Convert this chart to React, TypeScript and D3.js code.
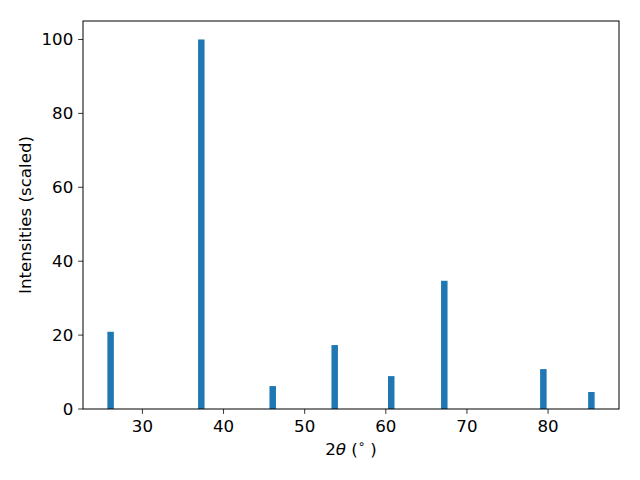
import React from "react";
import * as d3 from "d3";

const angles = [26.08, 37.26, 46.06, 53.7, 60.67, 67.21, 79.42, 85.34];
const intensities = [20.9, 100, 6.2, 17.3, 8.9, 34.7, 10.8, 4.6];
const xTicks = [30, 40, 50, 60, 70, 80];
const yTicks = [0, 20, 40, 60, 80, 100];
const barWidth = 0.8;

export default function App() {
  const W = 640, H = 480;
  const left = 83, right = 619, top = 21, bottom = 409;
  const lo = d3.min(angles)! - barWidth / 2;
  const hi = d3.max(angles)! + barWidth / 2;
  const pad = (hi - lo) * 0.05;
  const x = d3.scaleLinear().domain([lo - pad, hi + pad]).range([left, right]);
  const y = d3.scaleLinear().domain([0, 105]).range([bottom, top]);
  const fs = 16.67;
  const font = "DejaVu Sans, sans-serif";
  return (
    <svg width={W} height={H} style={{ position: "absolute", left: 0, top: 0 }} fontFamily={font}>
      <rect width={W} height={H} fill="white" />
      {angles.map((a, i) => (
        <rect key={i} x={x(a - barWidth / 2)} y={y(intensities[i])}
          width={x(a + barWidth / 2) - x(a - barWidth / 2)}
          height={y(0) - y(intensities[i])} fill="#1f77b4" />
      ))}
      <rect x={left} y={top} width={right - left} height={bottom - top} fill="none" stroke="black" strokeWidth={1} />
      {xTicks.map(t => (
        <g key={t} transform={`translate(${x(t)},${bottom})`}>
          <line y1={0} y2={4.86} stroke="black" strokeWidth={0.8} />
          <text y={432} transform={`translate(0,${-bottom})`} textAnchor="middle" fontSize={fs}>{t}</text>
        </g>
      ))}
      {yTicks.map(t => (
        <g key={t} transform={`translate(${left},${y(t)})`}>
          <line x1={0} x2={-4.86} stroke="black" strokeWidth={0.8} />
          <text x={-4.86 - 4.86} dy="0.36em" textAnchor="end" fontSize={fs}>{t}</text>
        </g>
      ))}
      <text x={(left + right) / 2} y={455} textAnchor="middle" fontSize={fs}>
        <tspan>2</tspan><tspan fontStyle="italic">θ</tspan><tspan> (</tspan>
        <tspan fontSize={fs * 0.7} dy={-7}>∘</tspan><tspan dy={7}> )</tspan>
      </text>
      <text transform={`translate(31,${(top + bottom) / 2}) rotate(-90)`} textAnchor="middle" fontSize={fs}>
        Intensities (scaled)
      </text>
    </svg>
  );
}
